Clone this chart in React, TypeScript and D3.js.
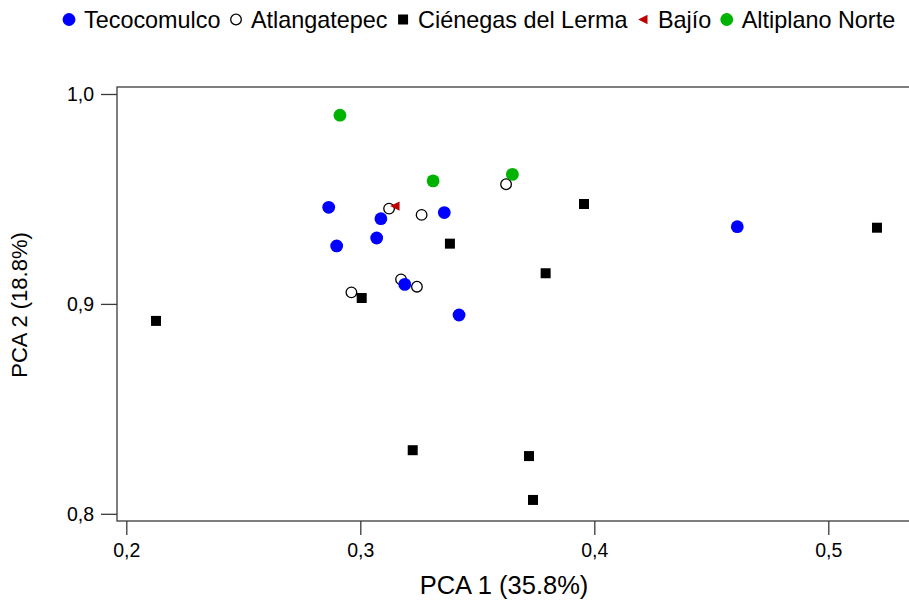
import React, { useEffect, useRef } from "react";
import * as d3 from "d3";

// PCA scores per site: [PCA 1, PCA 2]
const tecocomulco: [number, number][] = [
  [0.2865, 0.946], [0.3088, 0.9406], [0.307, 0.9314], [0.2899, 0.9276],
  [0.3359, 0.9435], [0.319, 0.9093], [0.3422, 0.8947], [0.4611, 0.9368],
];
const atlangatepec: [number, number][] = [
  [0.3123, 0.9454], [0.3262, 0.9424], [0.3174, 0.9117],
  [0.3242, 0.9082], [0.2962, 0.9055], [0.3623, 0.957],
];
const cienegasLerma: [number, number][] = [
  [0.2127, 0.8919], [0.3006, 0.9028], [0.3383, 0.9287], [0.3792, 0.9146],
  [0.3956, 0.9476], [0.5208, 0.9363], [0.3224, 0.8303], [0.3721, 0.8275],
  [0.3738, 0.8066],
];
const bajio: [number, number][] = [[0.3148, 0.9466]];
const altiplanoNorte: [number, number][] = [
  [0.2913, 0.9899], [0.3311, 0.9586], [0.365, 0.9617],
];

const xTicks = [0.2, 0.3, 0.4, 0.5];
const yTicks = [0.8, 0.9, 1.0];
const xTitle = "PCA 1 (35.8%)";
const yTitle = "PCA 2 (18.8%)";

type Shape = "dot" | "open" | "square" | "triangle";
type Group = { name: string; data: [number, number][]; shape: Shape; color: string };

const teco: Group = { name: "Tecocomulco", data: tecocomulco, shape: "dot", color: "#0000ff" };
const atla: Group = { name: "Atlangatepec", data: atlangatepec, shape: "open", color: "#000000" };
const cien: Group = { name: "Ciénegas del Lerma", data: cienegasLerma, shape: "square", color: "#000000" };
const baji: Group = { name: "Bajío", data: bajio, shape: "triangle", color: "#c00000" };
const alti: Group = { name: "Altiplano Norte", data: altiplanoNorte, shape: "dot", color: "#00b300" };

const legendOrder = [teco, atla, cien, baji, alti];
const drawOrder = [atla, teco, cien, baji, alti];

const W = 909;
const H = 601;
const FONT = "'Liberation Sans', Arial, Helvetica, sans-serif";
const AXIS = "#3a3a3a";

function drawMarker(
  g: d3.Selection<SVGGElement, unknown, null, undefined>,
  shape: Shape,
  color: string,
  cx: number,
  cy: number
) {
  if (shape === "dot") {
    g.append("circle").attr("cx", cx).attr("cy", cy).attr("r", 6.4).attr("fill", color);
  } else if (shape === "open") {
    g.append("circle").attr("cx", cx).attr("cy", cy).attr("r", 5.3)
      .attr("fill", "#fff").attr("stroke", color).attr("stroke-width", 1.3);
  } else if (shape === "square") {
    g.append("path")
      .attr("d", d3.symbol(d3.symbolSquare, 100)()!)
      .attr("transform", `translate(${cx},${cy})`)
      .attr("fill", color);
  } else {
    g.append("path")
      .attr("d", "M-4.8,0L4.6,-4.7L4.6,4.7Z")
      .attr("transform", `translate(${cx},${cy})`)
      .attr("fill", color);
  }
}

export default function App() {
  const ref = useRef<SVGSVGElement>(null);

  useEffect(() => {
    document.body.style.margin = "0";
    const svg = d3.select(ref.current!);
    svg.selectAll("*").remove();

    const x = d3.scaleLinear().domain([0.2, 0.5]).range([126.3, 828.3]);
    const y = d3.scaleLinear().domain([0.8, 1.0]).range([513.8, 94]);

    const frameLeft = 117;
    const frameTop = 87;
    const frameBottom = 521;

    // plot frame (right side runs past the view)
    svg.append("rect")
      .attr("x", frameLeft).attr("y", frameTop)
      .attr("width", 900).attr("height", frameBottom - frameTop)
      .attr("fill", "none").attr("stroke", AXIS).attr("stroke-width", 1.3);

    const fmt = (d: d3.NumberValue) => (+d).toFixed(1).replace(".", ",");

    const gx = svg.append("g").attr("transform", `translate(0,${frameBottom})`)
      .call(d3.axisBottom(x).tickValues(xTicks).tickFormat(fmt).tickSize(14).tickSizeOuter(0).tickPadding(8));
    const gy = svg.append("g").attr("transform", `translate(${frameLeft},0)`)
      .call(d3.axisLeft(y).tickValues(yTicks).tickFormat(fmt).tickSize(16).tickSizeOuter(0).tickPadding(7));
    [gx, gy].forEach((g) => {
      g.select(".domain").remove();
      g.selectAll("line").attr("stroke", AXIS).attr("stroke-width", 1.3);
      g.selectAll("text").attr("fill", "#000").style("font-family", FONT).style("font-size", "19.5px");
    });

    // points
    const pts = svg.append("g");
    drawOrder.forEach((grp) => {
      grp.data.forEach(([a, b]) => drawMarker(pts, grp.shape, grp.color, x(a), y(b)));
    });

    // axis titles
    svg.append("text")
      .attr("x", 504).attr("y", 594)
      .attr("text-anchor", "middle")
      .style("font-family", FONT).style("font-size", "25.5px")
      .text(xTitle);
    svg.append("text")
      .attr("transform", "translate(27,305) rotate(-90)")
      .attr("text-anchor", "middle")
      .style("font-family", FONT).style("font-size", "22px")
      .text(yTitle);

    // legend
    const lg = svg.append("g");
    let cx = 69;
    legendOrder.forEach((grp) => {
      drawMarker(lg, grp.shape, grp.color, cx, 19.5);
      const t = lg.append("text")
        .attr("x", cx + 15).attr("y", 27.5)
        .style("font-family", FONT).style("font-size", "23.4px")
        .text(grp.name);
      const w = (t.node() as SVGTextElement).getComputedTextLength();
      cx = cx + 15 + w + 15.5;
    });
  }, []);

  return (
    <svg
      ref={ref}
      width={W}
      height={H}
      style={{ display: "block", background: "#fff" }}
    />
  );
}
